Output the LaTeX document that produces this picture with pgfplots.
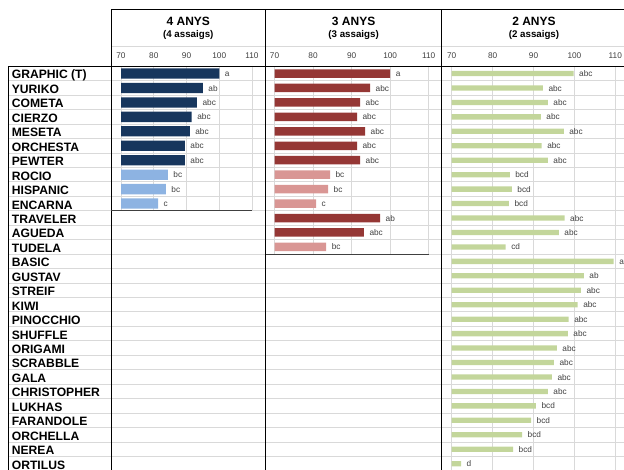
\documentclass[border=0pt]{standalone}
\usepackage{fontspec}
\setmainfont{Liberation Sans}
\usepackage{pgfplots}
\pgfplotsset{compat=1.18}

\definecolor{navy}{HTML}{17365D}
\definecolor{lblue}{HTML}{8DB3E2}
\definecolor{dred}{HTML}{953735}
\definecolor{pink}{HTML}{D99694}
\definecolor{lgreen}{HTML}{C3D69B}
\definecolor{gridgray}{HTML}{D9D9D9}
\definecolor{txtgray}{HTML}{404040}

\newcommand{\tinyfont}{\fontsize{6.2}{7}\selectfont}

% one panel = bars that start at 70 (shifted by the x filter)
\pgfplotsset{
  panel/.style={
    scale only axis, anchor=north west,
    xbar, bar shift=0pt,
    y dir=reverse, ymin=-0.5,
    x filter/.expression={x-70},
    xtick={0,10,20,30,40}, xticklabels={70,80,90,100,110},
    xticklabel pos=upper,
    xticklabel style={font=\tinyfont, text=txtgray, anchor=base, inner sep=0pt, yshift=6pt},
    ytick=\empty,
    major tick length=0pt, tick style={draw=none},
    axis line style={draw=none},
    xmajorgrids, grid style={gridgray, line width=0.75pt},
    nodes near coords, point meta=explicit symbolic,
    every node near coord/.append style={font=\tinyfont, text=txtgray, anchor=base west,
      inner sep=0pt, xshift=4pt, yshift=-2.3pt},
    clip=false,
  },
}

\begin{document}
\begin{tikzpicture}
\useasboundingbox (0,0) rectangle (468pt,-352.5pt);
\clip (0,0) rectangle (468pt,-352.5pt);

% row labels and row separators
\begin{axis}[
  at={(6pt,-49.725pt)}, anchor=north west, scale only axis,
  width=462pt, height=303.45pt,
  xmin=0, xmax=1, ymin=-0.5, ymax=27.5, y dir=reverse,
  xtick=\empty, ytick={0,...,27},
  yticklabels={GRAPHIC (T),YURIKO,COMETA,CIERZO,MESETA,ORCHESTA,PEWTER,ROCIO,HISPANIC,ENCARNA,TRAVELER,AGUEDA,TUDELA,BASIC,GUSTAV,STREIF,KIWI,PINOCCHIO,SHUFFLE,ORIGAMI,SCRABBLE,GALA,CHRISTOPHER,LUKHAS,FARANDOLE,ORCHELLA,NEREA,ORTILUS},
  yticklabel style={font=\fontsize{9.1}{10}\selectfont\bfseries, anchor=base west,
    inner sep=0pt, xshift=2.7pt, yshift=-4.1pt},
  minor ytick={0.5,1.5,...,26.5}, yminorgrids,
  minor grid style={gridgray, line width=0.75pt},
  major tick length=0pt, minor tick length=0pt, tick style={draw=none},
  axis line style={draw=none},
]
\addplot[draw=none] coordinates {(0,0)};
\end{axis}

% 4 ANYS
\begin{axis}[panel, at={(83.25pt,-49.725pt)}, width=115.95pt, height=108.375pt,
  xmin=-3.053, xmax=44.15, ymax=9.5, bar width=7.7pt]
\addplot[fill=navy, draw=none] coordinates {
  (100,0) [a] (95.0,1) [ab] (93.2,2) [abc] (91.6,3) [abc]
  (91.0,4) [abc] (89.5,5) [abc] (89.5,6) [abc]
};
\addplot[fill=lblue, draw=none] coordinates {
  (84.3,7) [bc] (83.7,8) [bc] (81.3,9) [c]
};
\end{axis}

% 3 ANYS
\begin{axis}[panel, at={(199.2pt,-49.725pt)}, width=132.075pt, height=140.8875pt,
  xmin=-2.31, xmax=43.37, ymax=12.5, bar width=6.4pt]
\addplot[fill=dred, draw=none] coordinates {
  (100,0) [a] (94.8,1) [abc] (92.2,2) [abc] (91.4,3) [abc]
  (93.5,4) [abc] (91.4,5) [abc] (92.2,6) [abc]
  (97.4,10) [ab] (93.2,11) [abc]
};
\addplot[fill=pink, draw=none] coordinates {
  (84.4,7) [bc] (83.9,8) [bc] (80.8,9) [c] (83.4,12) [bc]
};
\end{axis}

% 2 ANYS
\begin{axis}[panel, at={(331.275pt,-49.725pt)}, width=142.725pt, height=303.45pt,
  xmin=-2.445, xmax=44.08, ymax=27.5, bar width=4.0pt]
\addplot[fill=lgreen, draw=none] coordinates {
  (99.8,0) [abc] (92.3,1) [abc] (93.5,2) [abc] (91.8,3) [abc]
  (97.4,4) [abc] (92.0,5) [abc] (93.5,6) [abc] (84.2,7) [bcd]
  (84.7,8) [bcd] (84.0,9) [bcd] (97.6,10) [abc] (96.2,11) [abc]
  (83.2,12) [cd] (109.6,13) [a] (102.3,14) [ab] (101.6,15) [abc]
  (100.8,16) [abc] (98.6,17) [abc] (98.4,18) [abc] (95.7,19) [abc]
  (95.0,20) [abc] (94.5,21) [abc] (93.5,22) [abc] (90.6,23) [bcd]
  (89.4,24) [bcd] (87.2,25) [bcd] (85.0,26) [bcd] (72.3,27) [d]
};
\end{axis}

% headers
\node[anchor=base, font=\fontsize{9}{10}\selectfont\bfseries] at (141.2pt,-19.5pt) {4 ANYS};
\node[anchor=base, font=\fontsize{7.3}{8}\selectfont\bfseries] at (141.2pt,-28.3pt) {(4 assaigs)};
\node[anchor=base, font=\fontsize{9}{10}\selectfont\bfseries] at (265.2pt,-19.5pt) {3 ANYS};
\node[anchor=base, font=\fontsize{7.3}{8}\selectfont\bfseries] at (265.2pt,-28.3pt) {(3 assaigs)};
\node[anchor=base, font=\fontsize{9}{10}\selectfont\bfseries] at (400.5pt,-19.5pt) {2 ANYS};
\node[anchor=base, font=\fontsize{7.3}{8}\selectfont\bfseries] at (400.5pt,-28.3pt) {(2 assaigs)};

% frame lines
\draw[gridgray, line width=0.75pt] (83.25pt,-35pt) -- (470pt,-35pt);
\begin{scope}[line width=0.75pt]
\draw (83.25pt,-7.5pt) -- (470pt,-7.5pt);
\draw (6pt,-49.725pt) -- (470pt,-49.725pt);
\draw (6pt,-49.725pt) -- (6pt,-355pt);
\draw (83.25pt,-7.5pt) -- (83.25pt,-355pt);
\draw (199.2pt,-7.5pt) -- (199.2pt,-355pt);
\draw (331.275pt,-7.5pt) -- (331.275pt,-355pt);
\draw[txtgray] (83.25pt,-158.1pt) -- (189.2pt,-158.1pt);
\draw[txtgray] (199.2pt,-190.6pt) -- (321.5pt,-190.6pt);
\end{scope}
\end{tikzpicture}
\end{document}
